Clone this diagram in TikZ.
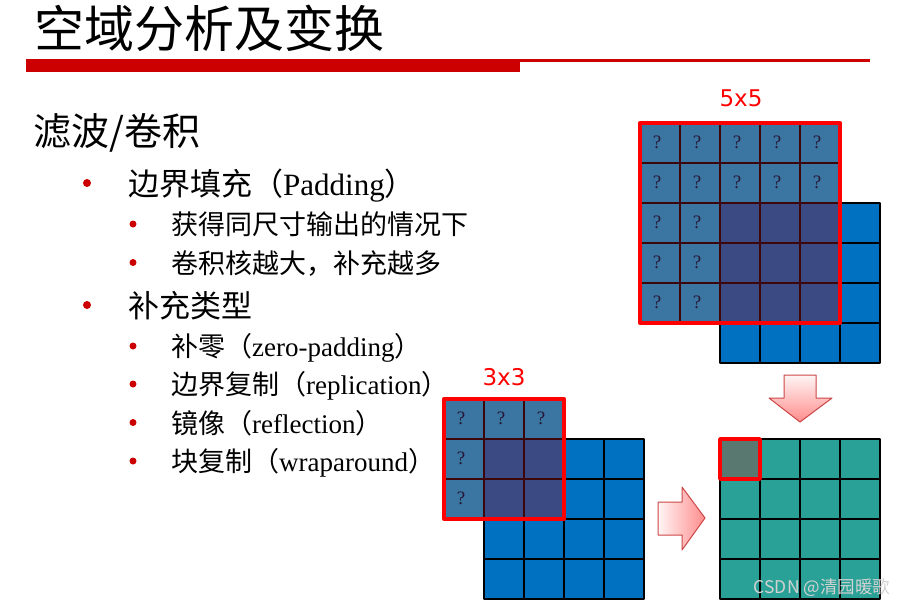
\documentclass[tikz,border=0pt]{standalone}
\usepackage{fontspec}
\setmainfont{Liberation Serif}
\newfontfamily\cjk{Noto Sans CJK SC}
\newfontfamily\lbl{DejaVu Sans}
\begin{document}
\begin{tikzpicture}[x=1pt,y=-1pt,line join=round,line cap=round]%kongyu
            \definecolor{titlered}{RGB}{204,0,0}
            \definecolor{imgblue}{RGB}{0,112,192}
            \definecolor{kernelblue}{RGB}{59,118,163}
            \definecolor{overlapblue}{RGB}{60,74,132}
            \definecolor{kernelline}{RGB}{60,6,10}
            \definecolor{qmark}{RGB}{40,22,52}
            \definecolor{outteal}{RGB}{42,161,150}
            \definecolor{outdark}{RGB}{88,120,112}
            \definecolor{arrowline}{RGB}{205,70,70}
            \useasboundingbox (0,0) rectangle (907,608);
            \fill[white] (0,0) rectangle (907,608);
            \tikzset{
                dong1/.style={anchor=base west,inner sep=0,font=\fontsize{31}{36}\selectfont},
                dong2/.style={anchor=base west,inner sep=0,font=\fontsize{27}{32}\selectfont},
                cham/.style={fill=titlered},
                kichthuoc/.style={text=red,inner sep=0,font=\lbl\fontsize{23}{27}\selectfont},
                hoi/.style={text=qmark,inner sep=0,font=\fontsize{19}{22}\selectfont},
                o_anh/.style={fill=imgblue,draw=black,line width=2.5},
                o_ra/.style={fill=outteal,draw=black,line width=2.5},
                luoi_nhan/.style={draw=kernelline,line width=2},
                vien_nhan/.style={draw=red,line width=4},
                mui_ten/.style={draw=arrowline,line width=1}
            }
            % tieu de
            \node[anchor=base west,inner sep=0,font=\cjk\fontsize{50}{60}\selectfont] (tieude) at (34,47) {空域分析及变换};
            \fill[titlered] (26,59) rectangle (520,71.5);
            \fill[titlered] (520,59) rectangle (870,61.5);
            % noi dung
            \node[anchor=base west,inner sep=0,font=\cjk\fontsize{38}{44}\selectfont] (loc) at (33,145) {滤波/卷积};
            \fill[cham] (87,183) circle (4pt);
            \node[dong1] (dem) at (128,195) {{\cjk 边界填充（}Padding{\cjk ）}};
            \fill[cham] (133,224) circle (3.5pt);
            \node[dong2] (cung) at (171,234) {\cjk 获得同尺寸输出的情况下};
            \fill[cham] (133,262.5) circle (3.5pt);
            \node[dong2] (cang) at (171,273) {\cjk 卷积核越大，补充越多};
            \fill[cham] (87,305) circle (4pt);
            \node[dong1] (loai) at (128,317) {\cjk 补充类型};
            \fill[cham] (133,346) circle (3.5pt);
            \node[dong2] (khong) at (171,356) {{\cjk 补零（}zero-padding{\cjk ）}};
            \fill[cham] (133,384) circle (3.5pt);
            \node[dong2] (bien) at (171,394) {{\cjk 边界复制（}replication{\cjk ）}};
            \fill[cham] (133,422.5) circle (3.5pt);
            \node[dong2] (guong) at (171,433) {{\cjk 镜像（}reflection{\cjk ）}};
            \fill[cham] (133,461) circle (3.5pt);
            \node[dong2] (khoi) at (171,471) {{\cjk 块复制（}wraparound{\cjk ）}};
            % anh va nhan 5x5
            \foreach \i in {0,...,3}
                \foreach \j in {0,...,3}
                    \path[o_anh] (720+40*\i,203+40*\j) rectangle +(40,40);
            \fill[kernelblue] (640,123) rectangle (840,323);
            \fill[overlapblue] (720,203) rectangle (840,323);
            \foreach \k in {1,...,4}{
                \draw[luoi_nhan] (640+40*\k,123)--(640+40*\k,323);
                \draw[luoi_nhan] (640,123+40*\k)--(840,123+40*\k);
            }
            \draw[vien_nhan] (640,123) rectangle (840,323);
            \foreach \i/\j in {0/0,1/0,2/0,3/0,4/0,0/1,1/1,2/1,3/1,4/1,0/2,1/2,0/3,1/3,0/4,1/4}
                \node[hoi] (q5\i\j) at (657+40*\i,142+40*\j) {?};
            \node[kichthuoc] (nhan5) at (741,98) {5x5};
            % anh va nhan 3x3
            \foreach \i in {0,...,3}
                \foreach \j in {0,...,3}
                    \path[o_anh] (484+40*\i,439+40*\j) rectangle +(40,40);
            \fill[kernelblue] (444,399) rectangle (564,519);
            \fill[overlapblue] (484,439) rectangle (564,519);
            \foreach \k in {1,2}{
                \draw[luoi_nhan] (444+40*\k,399)--(444+40*\k,519);
                \draw[luoi_nhan] (444,399+40*\k)--(564,399+40*\k);
            }
            \draw[vien_nhan] (444,399) rectangle (564,519);
            \foreach \i/\j in {0/0,1/0,2/0,0/1,0/2}
                \node[hoi] (q3\i\j) at (461+40*\i,418+40*\j) {?};
            \node[kichthuoc] (nhan3) at (504,377) {3x3};
            % ket qua
            \foreach \i in {0,...,3}
                \foreach \j in {0,...,3}
                    \path[o_ra] (720+40*\i,439+40*\j) rectangle +(40,40);
            \filldraw[fill=outdark,draw=red,line width=3.5] (720,439) rectangle +(40,40);
            % mui ten
            \def\D{(784,375)--(816,375)--(816,398)--(832,398)--(800,422)--(769,398)--(784,398)--cycle}
            \shade[top color=red!4,bottom color=red!45] \D;
            \draw[mui_ten] \D;
            \def\R{(658,502)--(682,502)--(682,487)--(705,518)--(682,550)--(682,535)--(658,535)--cycle}
            \shade[left color=red!4,right color=red!45] \R;
            \draw[mui_ten] \R;
            \node[inner sep=0,text=gray!35,font=\cjk\fontsize{17.5}{20}\selectfont] (csdn) at (822,588) {CSDN @清园暖歌};
\end{tikzpicture}
\end{document}
